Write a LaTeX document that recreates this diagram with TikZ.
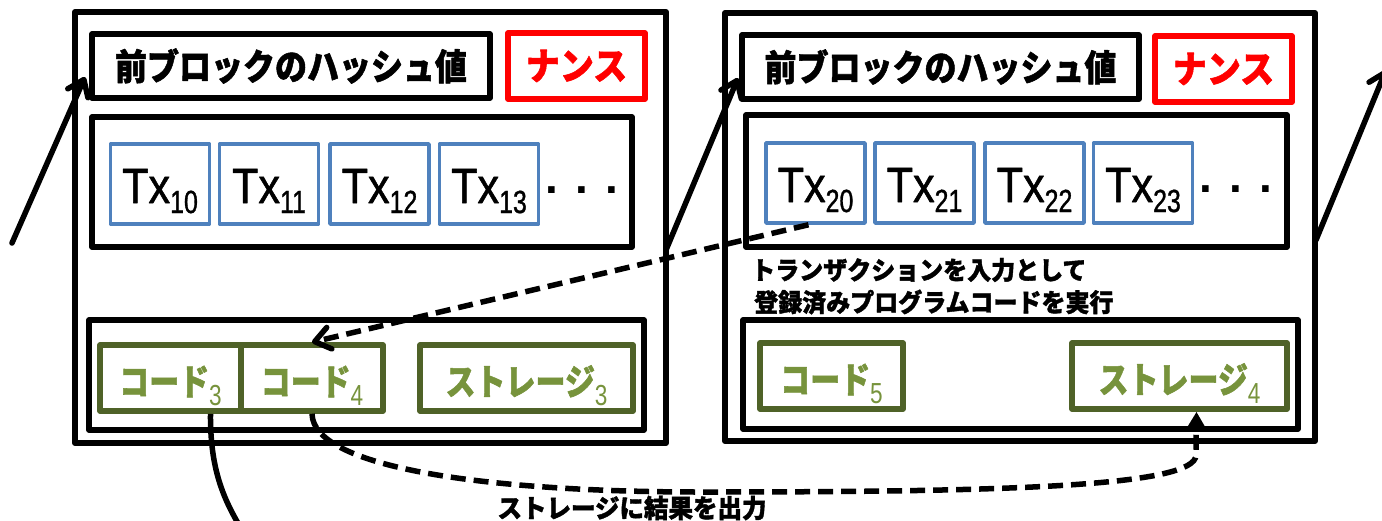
\documentclass[tikz,border=0pt]{standalone}
\usepackage{fontspec}
\setmainfont{Liberation Sans}
\newfontfamily\jp{Noto Sans CJK JP}[BoldFeatures={FakeBold=1.5}]
\newfontfamily\txfont{Liberation Sans}[FakeBold=1.2]
\usetikzlibrary{arrows.meta}
\definecolor{txblue}{HTML}{4F81BD}
\definecolor{gborder}{HTML}{4F6228}
\definecolor{gtext}{HTML}{77933C}
\definecolor{nred}{HTML}{FF0000}
\newcommand{\jt}[3]{{\jp\bfseries\fontsize{#1}{#1}\selectfont\scalebox{1}[#2]{#3}}}
\newcommand{\mysub}[2]{\raisebox{-10pt}{\fontsize{#1}{#1}\selectfont\scalebox{0.78}[1]{#2}}}
\newcommand{\tx}[1]{\scalebox{0.9}[1.03]{Tx}\mysub{32}{#1}}
\begin{document}
\begin{tikzpicture}[x=1pt,y=-1pt,
  wh/.style 2 args={minimum width=#1pt, minimum height=#2pt},
  box/.style={draw, rectangle, inner sep=0pt, line join=round},
  outerbox/.style={box, line width=6pt},
  inbox/.style={box, line width=5.5pt},
  nonce/.style={box, draw=nred, line width=5.5pt, text=nred},
  txbox/.style={box, draw=txblue, line width=3.5pt, wh={99}{80},
     font=\txfont\fontsize{48}{48}\selectfont, text height=40pt, text depth=2pt},
  gbox/.style={box, draw=gborder, line width=5.5pt, text=gtext, minimum height=66pt,
     text height=36pt, text depth=2pt},
  dots/.style={font=\bfseries\fontsize{46}{46}\selectfont, inner sep=0pt},
  link/.style={line width=5.5pt, line cap=round, -{Straight Barb[length=15pt,width=22pt,line cap=round,line join=round]}},
  dasharrow/.style={line width=5.5pt, dash pattern=on 15pt off 8pt},
  desc/.style={inner sep=0pt, anchor=west}
]
\useasboundingbox (0,0) rectangle (1382,520);

% ---------- block 1 ----------
\node[outerbox, wh={591}{431}] (b1) at (370.5,227.5) {};
\node[inbox, wh={398}{64}] (h1) at (291,66) {\jt{32}{1.13}{前ブロックのハッシュ値}};
\node[nonce, wh={137}{66}] (n1) at (576.5,66) {\jt{34}{1.1}{ナンス}};
\node[inbox, wh={540}{130}] (tc1) at (362,182) {};
\node[txbox] (t10) at (160,184) {\tx{10}};
\node[txbox] (t11) at (269,184) {\tx{11}};
\node[txbox] (t12) at (379.5,184) {\tx{12}};
\node[txbox] (t13) at (489,184) {\tx{13}};
\node[dots] (d1) at (582,190) {. . .};
\node[inbox, wh={555}{110}] (bc1) at (366.5,375) {};
\node[gbox, minimum width=141pt] (c3) at (170.5,378) {\jt{30}{1.2}{コード}\mysub{29}{3}};
\node[gbox, minimum width=142pt] (c4) at (312,378) {\jt{30}{1.2}{コード}\mysub{29}{4}};
\node[gbox, minimum width=213pt] (s3) at (526.5,378) {\jt{30}{1.2}{ストレージ}\mysub{29}{3}};

% ---------- block 2 ----------
\node[outerbox, wh={590}{428}] (b2) at (1020,227) {};
\node[inbox, wh={397}{64}] (h2) at (940.5,67) {\jt{32}{1.13}{前ブロックのハッシュ値}};
\node[nonce, wh={137}{66}] (n2) at (1223.5,69) {\jt{34}{1.1}{ナンス}};
\node[inbox, wh={541}{132}] (tc2) at (1016.5,181) {};
\node[txbox] (t20) at (815.5,183) {\tx{20}};
\node[txbox] (t21) at (924.5,183) {\tx{21}};
\node[txbox] (t22) at (1034.5,183) {\tx{22}};
\node[txbox] (t23) at (1143,183) {\tx{23}};
\node[dots] (d2) at (1236,189) {. . .};
\node[desc] (desc1) at (751,270) {\jt{24}{1.05}{トランザクションを入力として}};
\node[desc] (desc2) at (754,302) {\jt{24}{1.05}{登録済みプログラムコードを実行}};
\node[inbox, wh={555}{109}] (bc2) at (1020.5,374.5) {};
\node[gbox, minimum width=143pt] (c5) at (831.5,376) {\jt{30}{1.2}{コード}\mysub{29}{5}};
\node[gbox, minimum width=215pt] (s4) at (1179.5,376) {\jt{30}{1.2}{ストレージ}\mysub{29}{4}};

% ---------- chain links ----------
\coordinate (l0) at (12,243);
\coordinate (l1) at (85,77);
\coordinate (m0) at (666,250);
\coordinate (m1) at (738,78);
\coordinate (r0) at (1316,240);
\coordinate (r1) at (1386,70);
\draw[link] (l0) -- (l1);
\draw[link] (m0) -- (m1);
\draw[link] (r0) -- (r1);

% ---------- execution flow ----------
\draw[dasharrow, -{Straight Barb[length=15pt,width=22pt,line cap=round,line join=round]}]
  ([xshift=-7pt]t20.south) -- (c4.north);
\draw[dasharrow, -{Triangle[length=20pt,width=22pt]}]
  (c4.south) .. controls (313,470) and (500,492) .. (700,492)
  .. controls (1000,492) and (1196,487) .. (1196,455) -- ([xshift=17pt]s4.south);
\node[fill=white, inner sep=1pt] (out) at (632,508) {\jt{24.5}{1.05}{ストレージに結果を出力}};
\draw[line width=5.5pt] ([xshift=40pt]c3.south) .. controls (210,470) and (224,500) .. (242,530);
\end{tikzpicture}
\end{document}
